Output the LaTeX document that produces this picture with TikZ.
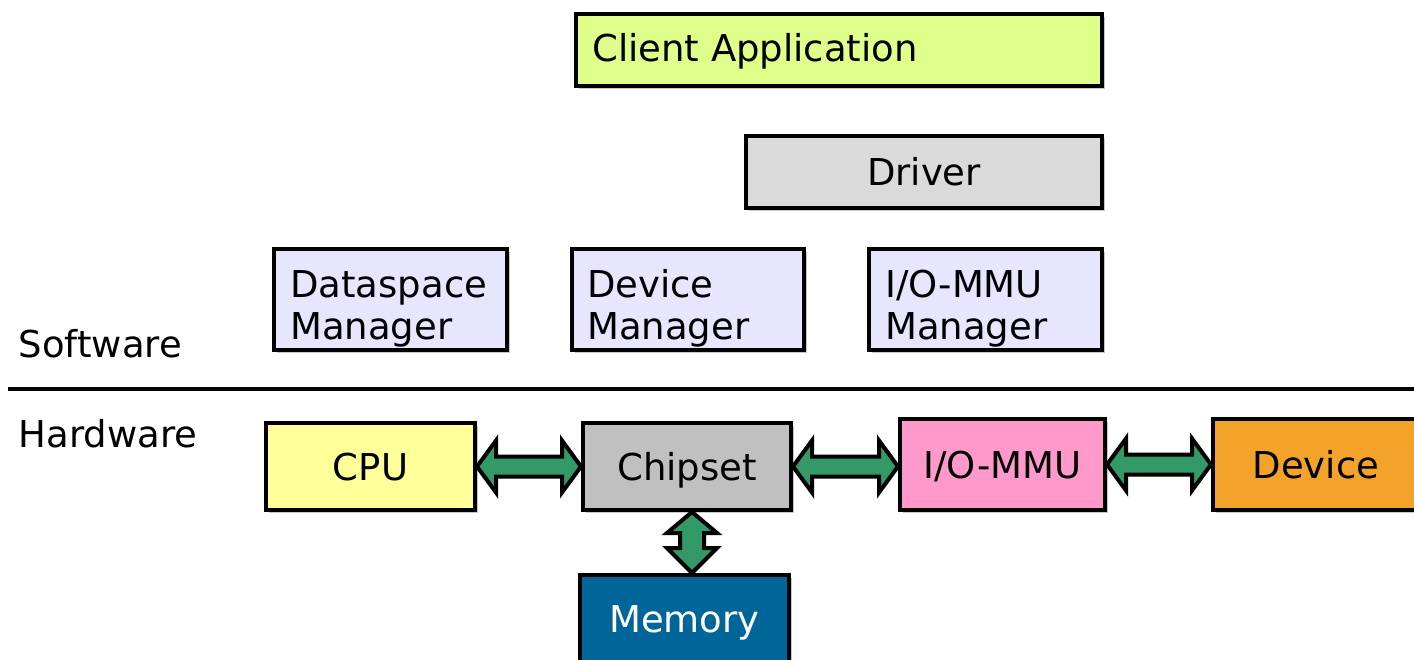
\documentclass[tikz,border=0pt]{standalone}
\usepackage{fontspec}
\setmainfont{DejaVu Sans}
\usetikzlibrary{calc,shadows}

\definecolor{clientfill}{HTML}{DFFF8A}
\definecolor{driverfill}{HTML}{DADADA}
\definecolor{mgrfill}{HTML}{E6E6FF}
\definecolor{cpufill}{HTML}{FFFF99}
\definecolor{chipfill}{HTML}{C0C0C0}
\definecolor{iommufill}{HTML}{FF99CC}
\definecolor{devfill}{HTML}{F4A32A}
\definecolor{memfill}{HTML}{006699}
\definecolor{flowgreen}{HTML}{339966}

\tikzset{
  blk/.style={draw=black, line width=4pt, inner sep=0pt, anchor=north west,
    text height=27pt, text depth=0pt,
    drop shadow={shadow xshift=3pt, shadow yshift=-3pt, opacity=0.22, fill=black}},
  lbl/.style={inner sep=0pt, anchor=base west, align=left},
  flow/.style={draw=black, fill=flowgreen, line width=4pt, line join=miter},
}

% two-headed block arrow between two nodes, horizontal and vertical
\newcommand\hbiarrow[2]{%
  \path[flow] let \p1=(#1.east), \p2=(#2.west) in
    (\x1,\y1) -- (\x1+19pt,\y1+26pt) -- (\x1+19pt,\y1+10pt) -- (\x2-19pt,\y1+10pt)
    -- (\x2-19pt,\y1+26pt) -- (\x2,\y1) -- (\x2-19pt,\y1-26pt) -- (\x2-19pt,\y1-10pt)
    -- (\x1+19pt,\y1-10pt) -- (\x1+19pt,\y1-26pt) -- cycle;}
\newcommand\vbiarrow[2]{%
  \path[flow] let \p1=([xshift=5pt]#1.south), \p2=(#2.north) in
    (\x1,\y1) -- (\x1+25pt,\y1-21pt) -- (\x1+12pt,\y1-21pt) -- (\x1+12pt,\y2+25pt)
    -- (\x1+25pt,\y2+25pt) -- (\x1,\y2) -- (\x1-25pt,\y2+25pt) -- (\x1-12pt,\y2+25pt)
    -- (\x1-12pt,\y1-21pt) -- (\x1-25pt,\y1-21pt) -- cycle;}

\begin{document}
\begin{tikzpicture}[x=1pt, y=-1pt, font=\fontsize{37}{42}\selectfont]
\useasboundingbox (0,0) rectangle (1414,660);
\clip (0,0) rectangle (1414,660);

% software layer
\node[blk, fill=clientfill, minimum width=526, minimum height=72] (client) at (574,12) {};
\node[lbl] (clientt) at (592,62) {Client Application};

\node[blk, fill=driverfill, minimum width=356, minimum height=72] (driver) at (744,134) {Driver};

\node[blk, fill=mgrfill, minimum width=233, minimum height=101] (dsm) at (272,247) {};
\node[lbl] (dsmt) at (290,340) {Dataspace\\Manager};

\node[blk, fill=mgrfill, minimum width=232, minimum height=101] (devm) at (570,247) {};
\node[lbl] (devmt) at (587,340) {Device\\Manager};

\node[blk, fill=mgrfill, minimum width=233, minimum height=101] (iomm) at (867,247) {};
\node[lbl] (iommt) at (885,340) {I/O-MMU\\Manager};

% layer boundary
\coordinate (sepl) at (8,389);
\coordinate (sepr) at (1414,389);
\draw[line width=4pt] (sepl) -- (sepr);
\node[lbl] (sw) at (18.5,358) {Software};
\node[lbl] (hw) at (18.5,447) {Hardware};

% hardware layer
\node[blk, fill=cpufill, minimum width=209, minimum height=87] (cpu) at (264,421) {CPU};
\node[blk, fill=chipfill, minimum width=208, minimum height=87] (chip) at (581,421) {Chipset};
\node[blk, fill=iommufill, minimum width=205, minimum height=91] (iommu) at (898,417) {I/O-MMU};
\node[blk, fill=devfill, minimum width=206, minimum height=91] (dev) at (1211,417) {Device};
\node[blk, fill=memfill, text=white, minimum width=209, minimum height=88] (mem) at (578,573) {Memory};

% buses
\hbiarrow{cpu}{chip}
\hbiarrow{chip}{iommu}
\hbiarrow{iommu}{dev}
\vbiarrow{chip}{mem}
\end{tikzpicture}
\end{document}
